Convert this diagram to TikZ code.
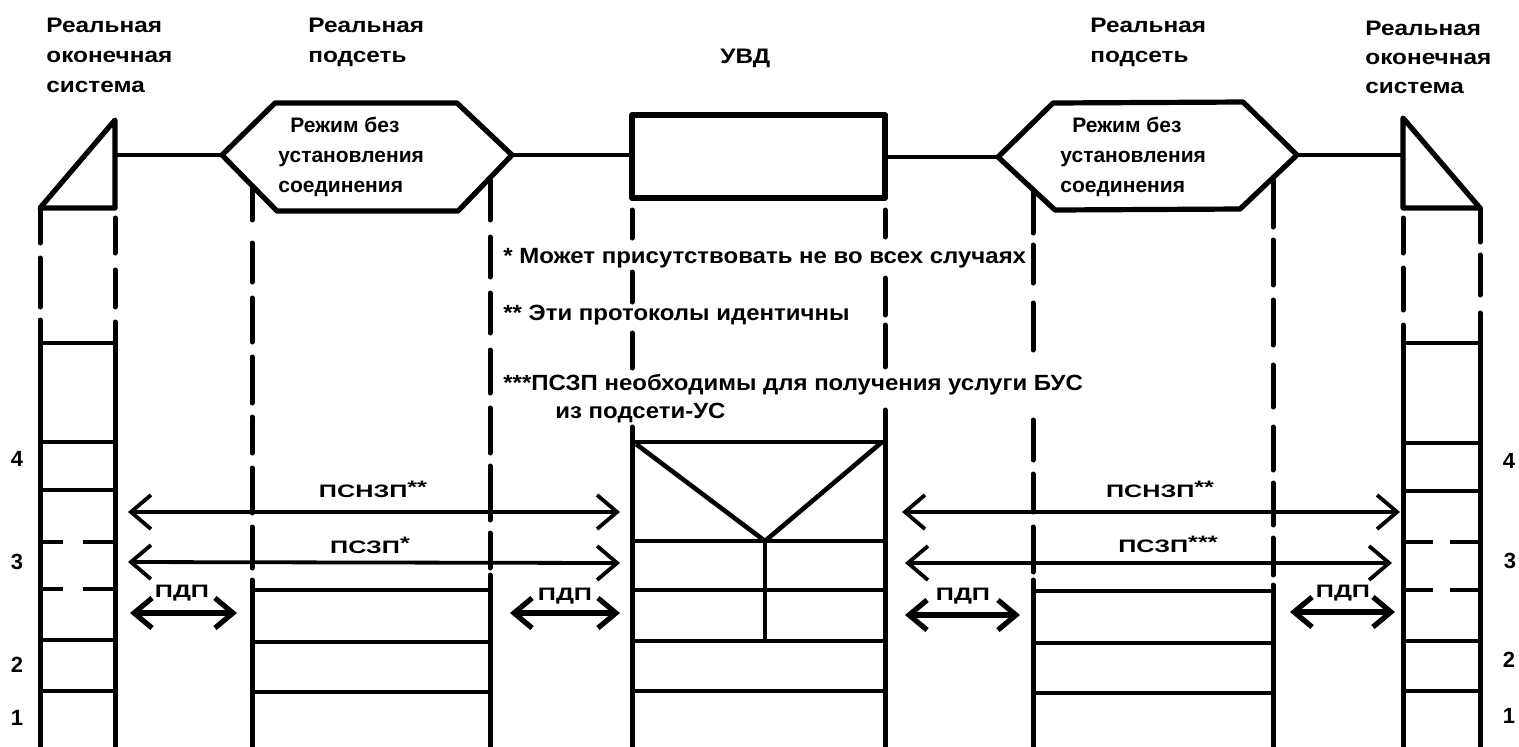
\documentclass[tikz,border=0pt]{standalone}
\usepackage{fontspec}
\setmainfont{Liberation Sans}
\newfontfamily\wfont{Liberation Sans}[FakeStretch=1.4]
\newfontfamily\hfont{Liberation Sans}[FakeStretch=1.16]
\newfontfamily\nfont{Liberation Sans}[FakeStretch=1.09]
\usetikzlibrary{arrows.meta}
\begin{document}
\begin{tikzpicture}[x=0.5pt,y=-0.5pt,
  heavy/.style={line width=2.6pt,line join=round},
  vseg/.style={line width=2.5pt,line cap=round},
  link/.style={line width=2pt},
  layer/.style={line width=2.3pt},
  prot/.style={line width=1.9pt,{Straight Barb[length=10pt,width=17pt,line width=1.9pt]}-{Straight Barb[length=10pt,width=17pt,line width=1.9pt]}},
  pdp/.style={line width=2.6pt,{Straight Barb[length=9pt,width=15pt,line width=2.6pt]}-{Straight Barb[length=9pt,width=15pt,line width=2.6pt]}},
  hdr/.style={anchor=base west,inner sep=0pt,font=\hfont\bfseries\fontsize{10.5}{12}\selectfont},
  hex/.style={anchor=base west,inner sep=0pt,font=\bfseries\fontsize{10.5}{12}\selectfont},
  note/.style={anchor=base west,inner sep=0pt,font=\nfont\bfseries\fontsize{11}{13}\selectfont},
  plab/.style={anchor=base,inner sep=0pt,font=\wfont\bfseries\fontsize{9}{11}\selectfont},
  num/.style={anchor=center,inner sep=0pt,font=\bfseries\fontsize{11}{13}\selectfont}
]
\useasboundingbox[fill=white] (0,0) rectangle (1519,746);

% ---------- headers ----------
\node[hdr] (h1a) at (46,32) {Реальная};
\node[hdr] (h1b) at (46,62) {оконечная};
\node[hdr] (h1c) at (46,92) {система};
\node[hdr] (h2a) at (308,32) {Реальная};
\node[hdr] (h2b) at (308,62) {подсеть};
\node[hdr] (h3) at (720,63) {УВД};
\node[hdr] (h4a) at (1090,32) {Реальная};
\node[hdr] (h4b) at (1090,62) {подсеть};
\node[hdr] (h5a) at (1365,35) {Реальная};
\node[hdr] (h5b) at (1365,64) {оконечная};
\node[hdr] (h5c) at (1365,93) {система};

% ---------- end systems: triangles ----------
\draw[heavy] (115,120) -- (40,208) -- (115,208) -- cycle;
\draw[heavy] (1403,118) -- (1480,208) -- (1403,208) -- cycle;

% ---------- subnets: hexagons ----------
\draw[heavy] (222,155) -- (275,103) -- (457,103) -- (512,155) -- (458,211) -- (277,211) -- cycle;
\draw[heavy] (998,157) -- (1053,103) -- (1243,102) -- (1297,155) -- (1240,209) -- (1055,210) -- cycle;
\node[hex] (x1a) at (290,132) {Режим без};
\node[hex] (x1b) at (278,162) {установления};
\node[hex] (x1c) at (278,192) {соединения};
\node[hex] (x2a) at (1072,132) {Режим без};
\node[hex] (x2b) at (1060,162) {установления};
\node[hex] (x2c) at (1060,192) {соединения};

% ---------- UVD box ----------
\draw[heavy] (632,115) rectangle (885,198);

% ---------- top links ----------
\draw[link] (115,155) -- (222,155);
\draw[link] (512,155) -- (632,155);
\draw[link] (885,157) -- (998,157);
\draw[link] (1297,155) -- (1403,155);

% ---------- vertical lines (dashed parts drawn as segments) ----------
\foreach \a/\b in {208/243,258/307,320/760} \draw[vseg] (40,\a) -- (40,\b);
\foreach \a/\b in {218/253,270/307,322/760} \draw[vseg] (115,\a) -- (115,\b);
\foreach \a/\b in {188/220,243/282,298/342,357/403,417/453,468/513,527/568,580/760} \draw[vseg] (252,\a) -- (252,\b);
\foreach \a/\b in {180/220,237/277,293/333,350/393,408/453,466/520,533/568,575/760} \draw[vseg] (490,\a) -- (490,\b);
\foreach \a/\b in {210/238,272/302,333/368,427/760} \draw[vseg] (632,\a) -- (632,\b);
\foreach \a/\b in {210/237,278/315,325/367,410/760} \draw[vseg] (885,\a) -- (885,\b);
\foreach \a/\b in {190/233,245/283,303/350,420/460,474/512,527/572,580/760} \draw[vseg] (1033,\a) -- (1033,\b);
\foreach \a/\b in {180/227,240/285,300/345,365/407,427/470,483/525,538/575,585/760} \draw[vseg] (1273,\a) -- (1273,\b);
\foreach \a/\b in {218/253,268/310,325/760} \draw[vseg] (1403,\a) -- (1403,\b);
\foreach \a/\b in {208/242,255/295,313/760} \draw[vseg] (1480,\a) -- (1480,\b);

% ---------- layer stacks ----------
\foreach \y in {343,442,490,640,691} \draw[layer] (40,\y) -- (115,\y);
\foreach \y in {542,589} {\draw[layer] (40,\y) -- (63,\y); \draw[layer] (83,\y) -- (115,\y);}
\foreach \y in {343,443,491,641,691} \draw[layer] (1403,\y) -- (1480,\y);
\foreach \y in {542,590} {\draw[layer] (1403,\y) -- (1433,\y); \draw[layer] (1450,\y) -- (1480,\y);}
\foreach \y in {590,642,692} \draw[layer] (252,\y) -- (490,\y);
\foreach \y in {591,643,693} \draw[layer] (1033,\y) -- (1273,\y);
\foreach \y in {442,541,590,641,691} \draw[layer] (632,\y) -- (885,\y);
\draw[layer,line join=round] (636,444) -- (765,541) -- (882,442);
\draw[layer] (765,541) -- (765,641);

% ---------- layer numbers ----------
\node[num] (n4l) at (17,459) {4};
\node[num] (n3l) at (17,562) {3};
\node[num] (n2l) at (17,665) {2};
\node[num] (n1l) at (17,718) {1};
\node[num] (n4r) at (1509,461) {4};
\node[num] (n3r) at (1510,561) {3};
\node[num] (n2r) at (1509,660) {2};
\node[num] (n1r) at (1509,716) {1};

% ---------- footnotes ----------
\node[note] (f1) at (503,263) {* Может присутствовать не во всех случаях};
\node[note] (f2) at (503,320) {** Эти протоколы идентичны};
\node[note] (f3) at (503,390) {***ПСЗП необходимы для получения услуги БУС};
\node[note] (f4) at (555,418) {из подсети-УС};

% ---------- protocol arrows ----------
\coordinate (p1a) at (128,512); \coordinate (p1b) at (620,512);
\coordinate (p2a) at (128,562); \coordinate (p2b) at (620,563);
\coordinate (p3a) at (130,613); \coordinate (p3b) at (237,613);
\coordinate (p4a) at (510,613); \coordinate (p4b) at (620,613);
\coordinate (p5a) at (902,512); \coordinate (p5b) at (1400,512);
\coordinate (p6a) at (905,563); \coordinate (p6b) at (1392,563);
\coordinate (p7a) at (905,615); \coordinate (p7b) at (1020,615);
\coordinate (p8a) at (1290,612); \coordinate (p8b) at (1395,612);
\draw[prot] (p1a) -- (p1b);
\draw[prot] (p2a) -- (p2b);
\draw[pdp] (p3a) -- (p3b);
\draw[pdp] (p4a) -- (p4b);
\draw[prot] (p5a) -- (p5b);
\draw[prot] (p6a) -- (p6b);
\draw[pdp] (p7a) -- (p7b);
\draw[pdp] (p8a) -- (p8b);
\node[plab] (l1) at (373,497) {ПСНЗП\raisebox{2pt}{**}};
\node[plab] (l2) at (370,553) {ПСЗП\raisebox{2pt}{*}};
\node[plab] (l3) at (182,597) {ПДП};
\node[plab] (l4) at (565,600) {ПДП};
\node[plab] (l5) at (1160,497) {ПСНЗП\raisebox{2pt}{**}};
\node[plab] (l6) at (1168,552) {ПСЗП\raisebox{2pt}{***}};
\node[plab] (l7) at (963,600) {ПДП};
\node[plab] (l8) at (1343,597) {ПДП};
\end{tikzpicture}
\end{document}
